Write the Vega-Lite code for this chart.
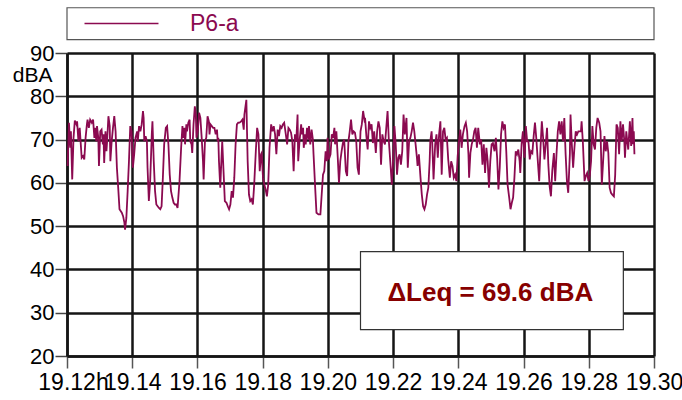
{
  "$schema": "https://vega.github.io/schema/vega-lite/v6.json",
  "width": 587,
  "height": 303,
  "autosize": {"type": "none"},
  "padding": {"left": 67, "top": 53, "right": 28, "bottom": 44},
  "background": "white",
  "config": {"view": {"stroke": null}, "font": "Liberation Sans"},
  "layer": [
    {
      "data": {"values": [{"label": "P6-a"}]},
      "mark": {"type": "rect", "fill": "#ffffff", "stroke": "#555555", "strokeWidth": 1.2, "clip": false},
      "encoding": {
        "x": {"datum": 19.12, "type": "quantitative"},
        "x2": {"datum": 19.30},
        "y": {"datum": 100.45, "type": "quantitative"},
        "y2": {"datum": 93.07}
      }
    },
    {
      "data": {"values": [
        {"time": 19.1202, "level": 63.9}, {"time": 19.1206, "level": 73.9}, {"time": 19.1210, "level": 68.1}, {"time": 19.1212, "level": 71.9},
        {"time": 19.1216, "level": 60.8}, {"time": 19.1220, "level": 70.4}, {"time": 19.1224, "level": 74.4}, {"time": 19.1229, "level": 73.5},
        {"time": 19.1231, "level": 74.2}, {"time": 19.1235, "level": 69.6}, {"time": 19.1237, "level": 71.9}, {"time": 19.1239, "level": 72.7},
        {"time": 19.1241, "level": 70.4}, {"time": 19.1245, "level": 65.8}, {"time": 19.1249, "level": 66.2}, {"time": 19.1253, "level": 65.4},
        {"time": 19.1257, "level": 70.4}, {"time": 19.1261, "level": 73.5}, {"time": 19.1263, "level": 74.6}, {"time": 19.1267, "level": 72.7},
        {"time": 19.1271, "level": 74.6}, {"time": 19.1276, "level": 73.9}, {"time": 19.1280, "level": 74.6}, {"time": 19.1284, "level": 70.4},
        {"time": 19.1286, "level": 72.7}, {"time": 19.1290, "level": 69.6}, {"time": 19.1292, "level": 73.1}, {"time": 19.1296, "level": 70.4},
        {"time": 19.1298, "level": 63.9}, {"time": 19.1302, "level": 71.9}, {"time": 19.1306, "level": 72.3}, {"time": 19.1310, "level": 68.9},
        {"time": 19.1312, "level": 71.2}, {"time": 19.1314, "level": 64.6}, {"time": 19.1318, "level": 71.9}, {"time": 19.1321, "level": 67.3},
        {"time": 19.1323, "level": 69.6}, {"time": 19.1327, "level": 75.4}, {"time": 19.1331, "level": 73.1}, {"time": 19.1333, "level": 65.0},
        {"time": 19.1337, "level": 69.6}, {"time": 19.1341, "level": 72.7}, {"time": 19.1345, "level": 75.4}, {"time": 19.1349, "level": 71.9},
        {"time": 19.1353, "level": 63.5}, {"time": 19.1357, "level": 58.9}, {"time": 19.1361, "level": 53.9}, {"time": 19.1368, "level": 53.1},
        {"time": 19.1372, "level": 52.3}, {"time": 19.1376, "level": 50.8}, {"time": 19.1378, "level": 49.2}, {"time": 19.1382, "level": 51.9},
        {"time": 19.1386, "level": 58.1}, {"time": 19.1390, "level": 65.0}, {"time": 19.1394, "level": 73.1}, {"time": 19.1398, "level": 71.9},
        {"time": 19.1402, "level": 63.5}, {"time": 19.1406, "level": 66.6}, {"time": 19.1410, "level": 70.4}, {"time": 19.1415, "level": 71.9},
        {"time": 19.1417, "level": 69.6}, {"time": 19.1421, "level": 73.1}, {"time": 19.1425, "level": 71.9}, {"time": 19.1429, "level": 73.5},
        {"time": 19.1433, "level": 76.6}, {"time": 19.1435, "level": 75.0}, {"time": 19.1437, "level": 69.6}, {"time": 19.1441, "level": 70.8},
        {"time": 19.1445, "level": 69.6}, {"time": 19.1447, "level": 63.5}, {"time": 19.1451, "level": 55.8}, {"time": 19.1455, "level": 60.4},
        {"time": 19.1460, "level": 71.2}, {"time": 19.1462, "level": 74.2}, {"time": 19.1466, "level": 65.0}, {"time": 19.1470, "level": 58.1},
        {"time": 19.1474, "level": 55.0}, {"time": 19.1478, "level": 54.6}, {"time": 19.1482, "level": 54.2}, {"time": 19.1486, "level": 53.9},
        {"time": 19.1490, "level": 54.6}, {"time": 19.1494, "level": 61.2}, {"time": 19.1498, "level": 68.9}, {"time": 19.1503, "level": 72.7},
        {"time": 19.1507, "level": 73.1}, {"time": 19.1511, "level": 68.9}, {"time": 19.1515, "level": 61.9}, {"time": 19.1519, "level": 58.1},
        {"time": 19.1523, "level": 56.6}, {"time": 19.1527, "level": 55.4}, {"time": 19.1531, "level": 55.0}, {"time": 19.1535, "level": 55.0},
        {"time": 19.1539, "level": 54.2},
        {"time": 19.1545, "level": 60.4}, {"time": 19.1550, "level": 68.1}, {"time": 19.1554, "level": 73.1}, {"time": 19.1556, "level": 70.4},
        {"time": 19.1560, "level": 72.7}, {"time": 19.1562, "level": 68.9}, {"time": 19.1566, "level": 73.5}, {"time": 19.1568, "level": 71.9},
        {"time": 19.1572, "level": 73.9}, {"time": 19.1576, "level": 74.6}, {"time": 19.1578, "level": 69.6}, {"time": 19.1582, "level": 68.9},
        {"time": 19.1584, "level": 66.9}, {"time": 19.1588, "level": 73.5}, {"time": 19.1592, "level": 77.7}, {"time": 19.1595, "level": 75.8},
        {"time": 19.1597, "level": 70.4}, {"time": 19.1601, "level": 71.9}, {"time": 19.1605, "level": 76.2}, {"time": 19.1609, "level": 75.0},
        {"time": 19.1613, "level": 70.4}, {"time": 19.1617, "level": 65.0}, {"time": 19.1619, "level": 60.8}, {"time": 19.1623, "level": 69.6},
        {"time": 19.1627, "level": 70.4}, {"time": 19.1631, "level": 75.4}, {"time": 19.1635, "level": 74.2}, {"time": 19.1637, "level": 71.2},
        {"time": 19.1640, "level": 73.5}, {"time": 19.1644, "level": 73.1}, {"time": 19.1648, "level": 72.7}, {"time": 19.1652, "level": 72.7},
        {"time": 19.1656, "level": 71.2}, {"time": 19.1660, "level": 72.3}, {"time": 19.1662, "level": 69.6}, {"time": 19.1664, "level": 70.4},
        {"time": 19.1666, "level": 65.0}, {"time": 19.1670, "level": 58.9}, {"time": 19.1672, "level": 62.7}, {"time": 19.1676, "level": 69.6},
        {"time": 19.1680, "level": 62.7}, {"time": 19.1684, "level": 55.8}, {"time": 19.1689, "level": 55.4}, {"time": 19.1693, "level": 54.6},
        {"time": 19.1697, "level": 53.9}, {"time": 19.1701, "level": 55.0}, {"time": 19.1705, "level": 58.1}, {"time": 19.1709, "level": 56.6},
        {"time": 19.1713, "level": 61.2}, {"time": 19.1717, "level": 68.9}, {"time": 19.1721, "level": 73.5}, {"time": 19.1725, "level": 73.9},
        {"time": 19.1729, "level": 73.9}, {"time": 19.1734, "level": 74.2}, {"time": 19.1738, "level": 74.6}, {"time": 19.1742, "level": 72.3},
        {"time": 19.1744, "level": 75.8}, {"time": 19.1748, "level": 78.1}, {"time": 19.1750, "level": 79.2}, {"time": 19.1752, "level": 71.9},
        {"time": 19.1754, "level": 65.0}, {"time": 19.1758, "level": 57.3}, {"time": 19.1762, "level": 55.8}, {"time": 19.1766, "level": 56.2},
        {"time": 19.1770, "level": 55.0}, {"time": 19.1774, "level": 59.6}, {"time": 19.1779, "level": 67.3}, {"time": 19.1783, "level": 72.7},
        {"time": 19.1787, "level": 71.2}, {"time": 19.1791, "level": 62.7}, {"time": 19.1795, "level": 66.6}, {"time": 19.1797, "level": 66.9},
        {"time": 19.1801, "level": 61.2}, {"time": 19.1805, "level": 59.6}, {"time": 19.1809, "level": 58.5}, {"time": 19.1813, "level": 56.9},
        {"time": 19.1817, "level": 59.6}, {"time": 19.1821, "level": 68.1}, {"time": 19.1826, "level": 73.5}, {"time": 19.1830, "level": 71.9},
        {"time": 19.1834, "level": 73.1}, {"time": 19.1838, "level": 71.2}, {"time": 19.1842, "level": 66.6}, {"time": 19.1846, "level": 72.3},
        {"time": 19.1850, "level": 70.8}, {"time": 19.1854, "level": 73.1}, {"time": 19.1858, "level": 72.7}, {"time": 19.1862, "level": 73.5},
        {"time": 19.1866, "level": 73.9}, {"time": 19.1871, "level": 71.2}, {"time": 19.1875, "level": 68.9}, {"time": 19.1879, "level": 72.7},
        {"time": 19.1883, "level": 72.3}, {"time": 19.1887, "level": 71.6}, {"time": 19.1891, "level": 69.6},
        {"time": 19.1895, "level": 62.7}, {"time": 19.1899, "level": 71.2}, {"time": 19.1903, "level": 69.6}, {"time": 19.1907, "level": 75.8},
        {"time": 19.1909, "level": 65.0}, {"time": 19.1913, "level": 69.6}, {"time": 19.1918, "level": 73.5}, {"time": 19.1920, "level": 71.2},
        {"time": 19.1924, "level": 72.7}, {"time": 19.1926, "level": 68.1}, {"time": 19.1930, "level": 71.2}, {"time": 19.1932, "level": 68.9},
        {"time": 19.1936, "level": 72.7}, {"time": 19.1940, "level": 70.0}, {"time": 19.1942, "level": 73.1}, {"time": 19.1946, "level": 68.9},
        {"time": 19.1950, "level": 72.3}, {"time": 19.1954, "level": 70.0}, {"time": 19.1956, "level": 66.6}, {"time": 19.1961, "level": 58.9},
        {"time": 19.1965, "level": 53.1}, {"time": 19.1971, "level": 52.7}, {"time": 19.1977, "level": 52.7}, {"time": 19.1981, "level": 57.3},
        {"time": 19.1985, "level": 61.9}, {"time": 19.1989, "level": 62.7}, {"time": 19.1993, "level": 67.3}, {"time": 19.1997, "level": 65.0},
        {"time": 19.1999, "level": 70.4}, {"time": 19.2003, "level": 65.4}, {"time": 19.2008, "level": 66.6}, {"time": 19.2012, "level": 71.2},
        {"time": 19.2016, "level": 70.4}, {"time": 19.2020, "level": 72.7}, {"time": 19.2022, "level": 68.9}, {"time": 19.2026, "level": 71.9},
        {"time": 19.2030, "level": 66.2}, {"time": 19.2034, "level": 60.0}, {"time": 19.2038, "level": 65.0}, {"time": 19.2042, "level": 67.3},
        {"time": 19.2046, "level": 69.2}, {"time": 19.2050, "level": 70.0}, {"time": 19.2055, "level": 62.7}, {"time": 19.2059, "level": 61.6},
        {"time": 19.2063, "level": 69.6}, {"time": 19.2067, "level": 71.9}, {"time": 19.2071, "level": 74.6}, {"time": 19.2075, "level": 71.2},
        {"time": 19.2079, "level": 71.9}, {"time": 19.2083, "level": 71.6}, {"time": 19.2087, "level": 69.6}, {"time": 19.2091, "level": 63.5},
        {"time": 19.2095, "level": 61.9}, {"time": 19.2100, "level": 71.9}, {"time": 19.2104, "level": 73.5}, {"time": 19.2108, "level": 76.6},
        {"time": 19.2112, "level": 74.6}, {"time": 19.2114, "level": 75.0}, {"time": 19.2118, "level": 70.8}, {"time": 19.2122, "level": 67.7},
        {"time": 19.2126, "level": 74.2}, {"time": 19.2130, "level": 72.7}, {"time": 19.2134, "level": 73.5}, {"time": 19.2138, "level": 69.2},
        {"time": 19.2142, "level": 71.9}, {"time": 19.2147, "level": 66.9}, {"time": 19.2151, "level": 71.9}, {"time": 19.2155, "level": 74.2},
        {"time": 19.2159, "level": 72.7}, {"time": 19.2163, "level": 64.2}, {"time": 19.2167, "level": 71.2}, {"time": 19.2171, "level": 69.6},
        {"time": 19.2175, "level": 68.9}, {"time": 19.2179, "level": 72.7}, {"time": 19.2183, "level": 76.6}, {"time": 19.2187, "level": 69.6},
        {"time": 19.2192, "level": 64.2}, {"time": 19.2196, "level": 59.6}, {"time": 19.2200, "level": 65.0}, {"time": 19.2204, "level": 73.1},
        {"time": 19.2208, "level": 68.9}, {"time": 19.2212, "level": 61.9}, {"time": 19.2216, "level": 65.8}, {"time": 19.2220, "level": 66.6},
        {"time": 19.2224, "level": 64.2}, {"time": 19.2228, "level": 67.3}, {"time": 19.2232, "level": 75.8}, {"time": 19.2236, "level": 71.2},
        {"time": 19.2241, "level": 75.0}, {"time": 19.2245, "level": 63.5}, {"time": 19.2249, "level": 69.6}, {"time": 19.2253, "level": 70.4},
        {"time": 19.2257, "level": 71.9}, {"time": 19.2261, "level": 73.9}, {"time": 19.2265, "level": 71.9}, {"time": 19.2269, "level": 68.9},
        {"time": 19.2273, "level": 65.8}, {"time": 19.2275, "level": 63.9}, {"time": 19.2279, "level": 66.6}, {"time": 19.2284, "level": 61.2},
        {"time": 19.2288, "level": 57.3}, {"time": 19.2292, "level": 54.6}, {"time": 19.2296, "level": 53.9}, {"time": 19.2300, "level": 55.0},
        {"time": 19.2304, "level": 57.3}, {"time": 19.2308, "level": 58.9}, {"time": 19.2312, "level": 65.0}, {"time": 19.2314, "level": 69.6},
        {"time": 19.2318, "level": 71.9}, {"time": 19.2320, "level": 69.2}, {"time": 19.2324, "level": 60.8}, {"time": 19.2329, "level": 68.9},
        {"time": 19.2333, "level": 71.2}, {"time": 19.2337, "level": 65.8}, {"time": 19.2341, "level": 71.2}, {"time": 19.2345, "level": 74.2},
        {"time": 19.2349, "level": 61.9}, {"time": 19.2353, "level": 71.9}, {"time": 19.2357, "level": 72.7}, {"time": 19.2361, "level": 70.0},
        {"time": 19.2365, "level": 70.4}, {"time": 19.2369, "level": 65.4}, {"time": 19.2374, "level": 61.2}, {"time": 19.2378, "level": 65.0},
        {"time": 19.2382, "level": 63.9}, {"time": 19.2386, "level": 61.2}, {"time": 19.2390, "level": 61.9}, {"time": 19.2394, "level": 60.4},
        {"time": 19.2398, "level": 66.2}, {"time": 19.2402, "level": 69.6}, {"time": 19.2406, "level": 72.3}, {"time": 19.2410, "level": 68.1},
        {"time": 19.2414, "level": 71.2}, {"time": 19.2419, "level": 73.1}, {"time": 19.2423, "level": 73.9}, {"time": 19.2427, "level": 71.9},
        {"time": 19.2431, "level": 66.6}, {"time": 19.2433, "level": 61.2}, {"time": 19.2437, "level": 66.9}, {"time": 19.2441, "level": 68.9},
        {"time": 19.2445, "level": 70.0}, {"time": 19.2449, "level": 71.9}, {"time": 19.2453, "level": 72.7}, {"time": 19.2457, "level": 68.1},
        {"time": 19.2461, "level": 72.7}, {"time": 19.2466, "level": 68.9}, {"time": 19.2470, "level": 70.0}, {"time": 19.2474, "level": 64.2},
        {"time": 19.2478, "level": 68.9}, {"time": 19.2482, "level": 62.3}, {"time": 19.2486, "level": 68.1}, {"time": 19.2490, "level": 65.0},
        {"time": 19.2494, "level": 58.9}, {"time": 19.2498, "level": 65.0}, {"time": 19.2502, "level": 68.9}, {"time": 19.2506, "level": 69.2},
        {"time": 19.2511, "level": 67.3}, {"time": 19.2515, "level": 70.4}, {"time": 19.2519, "level": 65.8}, {"time": 19.2523, "level": 58.5},
        {"time": 19.2527, "level": 63.5}, {"time": 19.2531, "level": 71.2}, {"time": 19.2535, "level": 74.2}, {"time": 19.2539, "level": 72.7},
        {"time": 19.2543, "level": 73.5}, {"time": 19.2547, "level": 67.3}, {"time": 19.2551, "level": 59.6}, {"time": 19.2556, "level": 56.6},
        {"time": 19.2560, "level": 53.9}, {"time": 19.2564, "level": 55.4}, {"time": 19.2568, "level": 56.6}, {"time": 19.2572, "level": 61.2},
        {"time": 19.2576, "level": 67.3}, {"time": 19.2580, "level": 66.6}, {"time": 19.2584, "level": 67.7}, {"time": 19.2588, "level": 65.0},
        {"time": 19.2590, "level": 62.3}, {"time": 19.2594, "level": 68.9}, {"time": 19.2598, "level": 71.9}, {"time": 19.2603, "level": 65.8},
        {"time": 19.2607, "level": 73.1}, {"time": 19.2611, "level": 69.6}, {"time": 19.2615, "level": 69.6}, {"time": 19.2619, "level": 65.4},
        {"time": 19.2623, "level": 67.3}, {"time": 19.2627, "level": 66.9}, {"time": 19.2631, "level": 70.8}, {"time": 19.2635, "level": 73.9},
        {"time": 19.2639, "level": 70.4}, {"time": 19.2643, "level": 65.8}, {"time": 19.2648, "level": 60.4}, {"time": 19.2652, "level": 68.1},
        {"time": 19.2656, "level": 74.2}, {"time": 19.2660, "level": 70.4}, {"time": 19.2664, "level": 65.4}, {"time": 19.2668, "level": 68.9},
        {"time": 19.2672, "level": 72.7}, {"time": 19.2676, "level": 64.2}, {"time": 19.2680, "level": 59.2}, {"time": 19.2684, "level": 56.9},
        {"time": 19.2688, "level": 62.7}, {"time": 19.2693, "level": 66.9}, {"time": 19.2697, "level": 60.4}, {"time": 19.2701, "level": 66.6},
        {"time": 19.2705, "level": 71.9}, {"time": 19.2709, "level": 74.2}, {"time": 19.2713, "level": 71.2}, {"time": 19.2717, "level": 74.2},
        {"time": 19.2721, "level": 69.6}, {"time": 19.2725, "level": 75.0}, {"time": 19.2729, "level": 66.6}, {"time": 19.2733, "level": 60.4},
        {"time": 19.2737, "level": 57.7}, {"time": 19.2742, "level": 66.6}, {"time": 19.2744, "level": 75.8}, {"time": 19.2748, "level": 68.9},
        {"time": 19.2752, "level": 63.5}, {"time": 19.2756, "level": 68.1}, {"time": 19.2760, "level": 71.9}, {"time": 19.2764, "level": 71.2},
        {"time": 19.2768, "level": 71.9}, {"time": 19.2772, "level": 71.9}, {"time": 19.2776, "level": 71.9}, {"time": 19.2778, "level": 74.2},
        {"time": 19.2782, "level": 69.2}, {"time": 19.2787, "level": 60.4}, {"time": 19.2791, "level": 61.6}, {"time": 19.2795, "level": 62.3},
        {"time": 19.2799, "level": 60.4}, {"time": 19.2803, "level": 61.6}, {"time": 19.2807, "level": 65.0}, {"time": 19.2811, "level": 73.1},
        {"time": 19.2815, "level": 68.9}, {"time": 19.2819, "level": 67.7}, {"time": 19.2823, "level": 72.7}, {"time": 19.2827, "level": 75.0},
        {"time": 19.2832, "level": 73.9}, {"time": 19.2836, "level": 71.9}, {"time": 19.2840, "level": 59.6}, {"time": 19.2844, "level": 65.0},
        {"time": 19.2848, "level": 70.8}, {"time": 19.2852, "level": 67.3}, {"time": 19.2856, "level": 69.6}, {"time": 19.2860, "level": 66.9},
        {"time": 19.2864, "level": 58.9}, {"time": 19.2868, "level": 57.7}, {"time": 19.2872, "level": 57.3}, {"time": 19.2877, "level": 56.9},
        {"time": 19.2881, "level": 61.9}, {"time": 19.2885, "level": 73.5}, {"time": 19.2889, "level": 72.7}, {"time": 19.2893, "level": 66.6},
        {"time": 19.2897, "level": 74.2}, {"time": 19.2901, "level": 69.6}, {"time": 19.2905, "level": 73.5}, {"time": 19.2909, "level": 69.6},
        {"time": 19.2911, "level": 65.8}, {"time": 19.2915, "level": 71.9}, {"time": 19.2917, "level": 70.4}, {"time": 19.2921, "level": 67.7},
        {"time": 19.2926, "level": 74.2}, {"time": 19.2930, "level": 68.5}, {"time": 19.2934, "level": 75.0}, {"time": 19.2936, "level": 68.9},
        {"time": 19.2938, "level": 71.9}, {"time": 19.2940, "level": 66.6}
      ]},
      "mark": {"type": "line", "strokeWidth": 1.8},
      "encoding": {
        "x": {
          "field": "time", "type": "quantitative",
          "scale": {"domain": [19.12, 19.30], "nice": false, "zero": false},
          "axis": {
            "title": null,
            "values": [19.12, 19.13, 19.14, 19.15, 19.16, 19.17, 19.18, 19.19, 19.20, 19.21, 19.22, 19.23, 19.24, 19.25, 19.26, 19.27, 19.28, 19.29, 19.30],
            "grid": true,
            "gridColor": "#151515",
            "gridWidth": 2.5,
            "gridOpacity": {"condition": {"test": "round(datum.value*100) % 2 == 0", "value": 1}, "value": 0},
            "domainColor": "#151515",
            "domainWidth": 2.5,
            "tickColor": "#555555",
            "tickWidth": 1.5,
            "tickSize": {"condition": {"test": "round(datum.value*100) % 2 == 0", "value": 12}, "value": 6},
            "labelExpr": "round(datum.value*100) % 2 == 0 ? (datum.value < 19.125 ? '19.12h' : format(datum.value, '.2f')) : ''",
            "labelOffset": {"condition": {"test": "datum.value < 19.125", "value": 6}, "value": 0},
            "labelFont": "Liberation Sans",
            "labelFontSize": 23,
            "labelColor": "#000000",
            "labelPadding": 3,
            "labelFlush": false,
            "labelOverlap": false,
            "labelBound": false
          }
        },
        "y": {
          "field": "level", "type": "quantitative",
          "scale": {"domain": [20, 90], "nice": false, "zero": false},
          "axis": {
            "values": [20, 30, 40, 50, 60, 70, 80, 90],
            "title": "dBA",
            "titleAngle": 0,
            "titleAlign": "right",
            "titleBaseline": "alphabetic",
            "titleX": -15,
            "titleY": 28.5,
            "titleFont": "Liberation Sans",
            "titleFontSize": 21,
            "titleFontWeight": "normal",
            "titleColor": "#000000",
            "grid": true,
            "gridColor": "#151515",
            "gridWidth": 2.5,
            "domainColor": "#151515",
            "domainWidth": 2.5,
            "tickColor": "#444444",
            "tickSize": 12,
            "tickWidth": 1.5,
            "labelFont": "Liberation Sans",
            "labelFontSize": 22,
            "labelColor": "#000000",
            "labelPadding": 1,
            "labelFlush": false,
            "labelOverlap": false
          }
        },
        "color": {
          "datum": "P6-a",
          "scale": {"range": ["#8b0a50"]},
          "legend": {
            "orient": "none",
            "legendX": 43,
            "legendY": -41,
            "title": null,
            "padding": 0,
            "symbolType": "M-4,0H4",
            "symbolSize": 342,
            "symbolStrokeWidth": 1.4,
            "symbolOffset": 0,
            "labelFont": "Liberation Sans",
            "labelFontSize": 23,
            "labelColor": "#8b0a50",
            "labelOffset": 57,
            "labelLimit": 300
          }
        }
      }
    },
    {
      "data": {"values": [{"note": "ΔLeq = 69.6 dBA"}]},
      "mark": {"type": "rect", "fill": "#ffffff", "stroke": "#333333", "strokeWidth": 1.2},
      "encoding": {
        "x": {"datum": 19.2100, "type": "quantitative"},
        "x2": {"datum": 19.2906},
        "y": {"datum": 44.1, "type": "quantitative"},
        "y2": {"datum": 26.1}
      }
    },
    {
      "data": {"values": [{"note": "ΔLeq = 69.6 dBA"}]},
      "mark": {"type": "text", "font": "Liberation Sans", "fontSize": 26, "fontWeight": "bold", "color": "#870000", "align": "center", "baseline": "alphabetic"},
      "encoding": {
        "x": {"datum": 19.2498, "type": "quantitative"},
        "y": {"datum": 32.7, "type": "quantitative"},
        "text": {"field": "note"}
      }
    }
  ]
}
